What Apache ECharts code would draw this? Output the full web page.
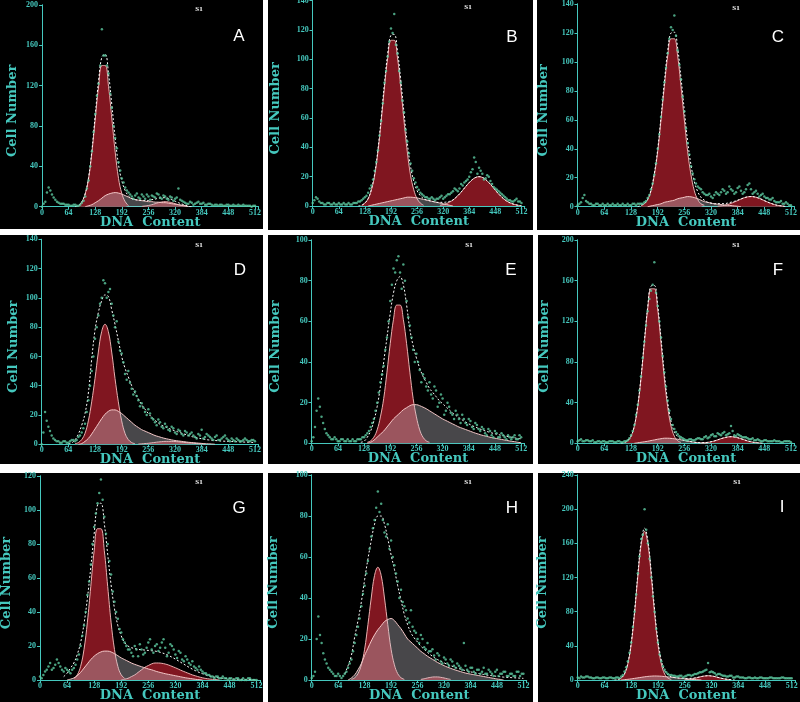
<!DOCTYPE html>
<html><head><meta charset="utf-8">
<script src="https://cdn.jsdelivr.net/npm/echarts@6/dist/echarts.min.js"></script>
<style>html,body{margin:0;padding:0;background:#fff;}#c{width:800px;height:702px;}</style>
</head><body><div id="c"></div>
<script>
// ---------- DATA (x step of 8 channels; "from" is the first channel) ----------
const STEP = 8;
const panelLetters = ['A','B','C','D','E','F','G','H','I'];
const yMaxes = [200,140,140,140,100,200,120,100,240];
const yIntervals = [40,20,20,20,20,40,20,20,40];
const xMax = 512, xInterval = 64;
const xAxisTitle = 'DNA  Content';
const yAxisTitle = 'Cell Number';
const sampleTag = 'S1';

// Panel A
const A_G1 = {from:88, y:[1,5,13,28,54,87,119,140,140,119,87,54,28,13,5,1]};
const A_S  = {from:104, y:[0,1,2,4,6,8.5,11,12.5,13.5,14,13.5,12.5,11,9.5,8,7,6.5,6,5.5,5,5,4.5,4.5,4,4,3.5,3,2.5,2,1.5,1,0]};
const A_G2 = {from:240, y:[.3,.7,1.2,2,3,4,4.7,5,4.7,4,3,2,1.2,.7,.3]};
const A_FIT = null;
const A_DOTS = [0,5,19,12,7,4,3,2,2,1,2,1,4,10,26,55,92,122,176,150,132,98,68,44,28,19,14,10,11,9,12,8,10,11,9,12,8,10,7,9,8,18,6,4,3,4,3,5,3,2,3,2,2,1,2,1,2,1,1,2,1,1,1,0,1];
const A_DOTS2 = [3,14,16,9,5,3,3,2,1,2,1,2,6,18,40,74,110,140,150,140,112,80,58,36,24,16,12,8,13,8,10,12,7,10,13,9,11,8,10,6,9,7,5,3,5,2,4,3,4,2,3,1,2,2,1,2,1,2,1,1,2,1,1,1];

// Panel B
const B_G1 = {from:120, y:[.5,2,5,11,21,37,58,81,101,113,113,101,81,58,37,21,11,5,2,.5]};
const B_S  = {from:136, y:[0,.5,1,1.5,2,2.5,3,3.5,4,4.5,5,5.5,6,6,5.8,5.5,5,4.5,4,3.5,3,2.5,2,1.5,1,.5,0]};
const B_G2 = {from:312, y:[.5,1,1.7,2.7,4.1,6,8.2,10.8,13.5,16,18.1,19.5,20,19.5,18.1,16,13.5,10.8,8.2,6,4.1,2.7,1.7,1,.5,.2]};
const B_FIT = null;
const B_DOTS = [2,6,3,2,1,2,1,1,2,1,1,2,1,2,3,4,6,9,14,24,38,58,84,102,121,131,104,84,64,44,29,19,13,9,7,6,5,5,5,6,5,7,8,10,11,12,14,17,20,25,30,26,22,19,20,15,12,10,8,6,4,3,4,3,2];
const B_DOTS2 = [4,5,2,1,2,1,2,1,1,2,1,1,2,2,3,5,7,12,18,30,48,70,92,112,118,110,92,72,52,36,24,16,11,8,6,5,6,4,5,7,6,8,9,12,10,15,16,18,23,33,22,24,18,21,17,13,11,9,7,5,4,3,5,3];

// Panel C
const C_G1 = {from:152, y:[1,2,5,11,22,38,60,83,104,116,116,104,83,60,38,22,11,5,2,1]};
const C_S  = {from:168, y:[0,.5,1,1.5,2,3,3.5,4,4.5,5.5,6,6.5,7,6.8,6.3,5.5,4.5,3.5,3,2.5,2,1.8,1.5,1.2,1,.8,.5,.3,0]};
const C_G2 = {from:336, y:[.3,.6,.9,1.5,2.3,3.2,4.2,5.3,6.2,6.8,7,6.8,6.2,5.3,4.2,3.2,2.3,1.5,.9,.6,.3]};
const C_FIT = null;
const C_DOTS = [1,3,8,3,2,1,2,1,1,2,1,1,2,1,1,2,1,2,2,2,3,6,12,22,40,62,86,106,124,132,108,88,66,44,28,19,14,12,9,8,7,8,9,10,11,10,12,9,13,11,10,15,12,10,9,8,7,6,5,4,3,4,2,2,1];
const C_DOTS2 = [2,6,4,2,1,2,1,2,1,1,2,1,1,2,1,1,2,1,2,2,4,8,16,30,50,74,96,116,122,118,98,76,54,36,23,16,13,10,8,9,6,10,8,12,9,14,11,10,14,9,12,16,9,11,7,9,6,5,6,3,3,2,3,1];

// Panel D
const D_G1 = {from:80, y:[.4,1.2,3.2,7.5,16,29,45,63,77,82,77,63,45,29,16,7.5,3.2,1.2,.4]};
const D_S  = {from:88, y:[0,.5,2,4,7,10.5,14,17.5,20.5,22.5,23.5,23.5,22.5,21,19,17,15,13,11.5,10,9,8,7,6,5.3,4.6,4,3.5,3,2.6,2.3,2,1.7,1.4,1.2,1,.8,.6,.4,.3,.2,0]};
const D_G2 = {from:232, y:[.2,.3,.5,.7,1,1.3,1.6,1.8,2,2,2,1.9,1.7,1.5,1.2,1,.8,.6,.4,.3,.2]};
const D_FIT = {from:64, y:[.5,1,3,7,13,21,35,58,78,90,98,102,101,92,82,71,60,52,46,40,35,31,27,24,21,18.5,16.5,14.5,13,12,11,10,9.2,8.4,7.6,6.8,6,5.3,4.7,4.2,3.8,3.4,3,2.8,2.6,2.4,2.2,2.1,2,1.9,1.8,1.7,1.6,1.5,1.4,1.3,1.2]};
const D_DOTS = [0,22,12,6,3,2,1,2,1,3,2,5,8,14,30,50,72,88,100,110,104,96,80,70,62,48,50,38,36,30,28,22,24,18,15,17,12,14,10,12,8,10,7,9,6,8,5,7,10,5,6,4,5,3,4,6,3,4,2,3,2,4,2,3,2];
const D_DOTS2 = [8,16,9,4,2,1,2,1,2,3,3,6,11,22,40,60,80,96,112,100,106,88,84,64,56,44,42,34,33,26,25,20,21,17,13,15,11,12,9,11,7,9,6,8,7,6,4,6,4,7,5,3,6,3,5,4,2,3,4,2,3,3,2,3];

// Panel E
const E_G1 = {from:136, y:[.5,1.2,3,6.6,13,22,35,49,61,68,68,61,49,35,22,13,6.6,3,1.2,.5]};
const E_S  = {from:136, y:[0,.5,1.5,3,4.5,6,8,10,12,13.5,15,16.5,17.5,18.5,19,19,18.5,17.8,17,16,15,14,13,12,11.2,10.4,9.6,8.8,8,7.4,6.8,6.2,5.6,5,4.5,4,3.6,3.2,2.8,2.5,2.2,1.9,1.6,1.3,1,.8,.5,.3]};
const E_G2 = null;
const E_FIT = {from:120, y:[.5,1,3,6,11,18,28,40,52,64,74,80,82,78,68,56,48,42,37,33,30,27,25,23,21,19.5,18,16.5,15,13.8,12.6,11.5,10.5,9.6,8.7,8,7.3,6.7,6.1,5.6,5.1,4.7,4.3,3.9,3.6,3.3,3,2.7,2.4,2.2]};
const E_DOTS = [1,8,22,13,7,4,2,3,1,2,1,2,1,1,2,2,3,5,8,12,20,30,38,52,70,86,90,84,88,70,58,46,44,36,34,28,30,22,26,20,22,16,18,14,16,12,14,10,12,8,10,7,8,5,7,4,6,3,5,3,4,2,4,2,3];
const E_DOTS2 = [3,16,18,10,5,3,2,2,1,2,1,1,2,1,2,3,4,6,10,16,25,34,46,60,78,84,92,76,80,62,52,40,40,30,32,26,24,28,18,24,14,20,15,12,14,10,12,9,11,7,9,6,7,4,6,3,5,3,4,2,3,3,2,4];

// Panel F
const F_G1 = {from:112, y:[.8,2.6,7,17,36,64,99,132,152,152,132,99,64,36,17,7,2.6,.8]};
const F_S  = {from:136, y:[0,.5,1,1.5,2,2.7,3.3,4,4.5,5,5,4.8,4.4,4,3.4,2.8,2.2,1.6,1.1,.7,.4,.2,0]};
const F_G2 = {from:296, y:[.2,.5,.9,1.5,2.3,3.4,4.5,5.5,6.2,6.5,6.2,5.5,4.5,3.4,2.3,1.5,.9,.5,.2]};
const F_FIT = null;
const F_DOTS = [2,4,2,3,2,1,2,1,2,1,2,1,2,1,2,3,8,18,38,66,100,130,150,178,135,104,70,42,24,14,9,6,4,3,4,3,5,4,6,5,8,7,10,8,11,9,17,8,9,7,6,5,4,3,4,2,3,2,2,3,2,1,2,2,1];
const F_DOTS2 = [3,2,3,2,3,1,2,2,1,2,2,1,2,1,2,5,12,28,52,84,116,142,156,148,120,86,56,32,18,11,7,5,3,4,3,4,5,4,7,6,9,7,9,10,8,10,12,7,8,6,6,4,5,3,3,2,3,2,2,2,2,1,2,2];

// Panel G
const G_G1 = {from:80, y:[1,3,8,18,34,55,76,89,89,76,55,34,18,8,3,1]};
const G_S  = {from:64, y:[0,.5,1.2,2.5,4.5,7,9.5,12,14,15.5,16.5,17,17,16.5,15.5,14.3,13,12,11,10,9.2,8.5,7.8,7.2,6.5,6,5.3,4.7,4.2,3.7,3.3,2.9,2.5,2.1,1.7,1.3,1,.7,.4,.2,0]};
const G_G2 = {from:192, y:[0,.5,1,2,3,4.5,6,7.5,8.5,9.5,10,10,9.8,9.4,8.8,8,7.2,6.3,5.4,4.6,3.8,3,2.4,1.8,1.3,.9,.6,.4,.2,0]};
const G_FIT = {from:56, y:[2,4,7,10,15,22,33,48,66,86,103,104,92,74,56,42,32,26,22,20,19,18.5,18,17.8,17.6,17.4,17.2,17,16.6,16,15.3,14.4,13.4,12.3,11.1,9.9,8.7,7.5,6.4,5.4,4.5,3.7,3,2.4,1.9,1.5,1.2,1,.8,.7,.6,.5,.4,.4,.3,.3,.2,.2]};
const G_DOTS = [2,3,6,10,7,12,8,5,6,4,7,12,20,32,50,68,90,104,118,96,80,62,46,36,28,22,18,16,20,14,18,16,22,18,20,17,22,19,16,20,15,17,12,14,10,11,7,8,5,4,3,2,2,1,2,1,1,0,1,0,1,0,1,0,0];
const G_DOTS2 = [1,5,8,6,9,10,6,7,5,6,9,15,26,40,58,80,98,110,106,86,70,52,40,30,24,20,18,14,18,21,15,19,24,16,21,19,24,14,21,18,13,16,11,12,9,8,6,6,4,3,2,1,2,1,1,0,1,0,1,0,0,1,0,0];

// Panel H
const H_G1 = {from:96, y:[.3,1.1,3.1,7.4,15,27,40,51,55,51,40,27,15,7.4,3.1,1.1,.3]};
const H_S  = {from:88, y:[0,1,2.5,5,8,12,15.5,19,22,24.5,26.5,28.5,29.5,30,29,27,25,22.5,20,18.5,17,15.5,14,12.8,11.6,10.6,9.6,8.6,7.8,7,6.3,5.7,5.1,4.6,4.1,3.6,3.2,2.9,2.6,2.3,2,1.7,1.4,1.1,.8,.5,.3,0]};
const H_G2 = {from:264, y:[.3,.6,1,1.3,1.5,1.5,1.3,1,.6,.3]};
const H_FIT = {from:80, y:[3,7,12,21,29,38,49,59,68,76,80,80,76,69,61,54,46,39,32,27,23,20.5,18.5,16.5,15,13.5,12.2,11,10,9.2,8.4,7.6,7,6.4,5.8,5.3,4.8,4.4,4,3.6,3.3,3,2.7,2.4,2.2,2,1.8,1.6,1.4,1.3,1.2,1.1,1,.9,.8]};
const H_DOTS = [1,4,31,18,10,6,4,2,3,1,3,6,10,18,26,36,46,58,70,78,92,86,72,76,68,56,48,44,36,30,34,24,20,22,16,18,14,12,13,9,11,8,10,7,8,6,18,5,6,4,5,3,6,3,4,2,5,3,4,2,3,2,4,2,3];
const H_DOTS2 = [2,20,22,13,8,5,3,2,2,2,4,8,14,22,30,42,52,64,74,84,82,78,70,64,60,52,40,38,34,28,26,23,18,20,15,14,15,10,12,8,10,7,9,6,7,5,7,4,6,3,5,4,3,5,3,4,2,3,4,2,3,2,4,3];

// Panel I
const I_G1 = {from:96, y:[.6,2.3,7,19,42,78,122,159,174,159,122,78,42,19,7,2.3,.6]};
const I_S  = {from:104, y:[0,.4,.8,1.3,1.9,2.5,3.1,3.7,4.2,4.5,4.7,4.6,4.4,4,3.6,3.2,2.8,2.4,2,1.6,1.2,.8,.5,.2,0]};
const I_G2 = {from:256, y:[.3,.7,1.2,2,3,4,4.7,5,4.7,4,3,2,1.2,.7,.3]};
const I_FIT = null;
const I_DOTS = [3,4,3,4,3,2,3,2,3,2,3,2,3,4,10,22,44,80,125,165,200,160,120,80,44,22,12,7,6,5,4,5,4,6,5,7,8,9,11,20,10,8,7,6,5,4,5,3,4,3,2,3,2,3,2,3,2,2,3,2,2,3,2,2,2];
const I_DOTS2 = [2,3,4,3,2,3,2,3,2,3,2,3,2,6,15,32,62,100,145,170,176,142,98,60,30,16,9,6,5,4,5,3,5,6,6,7,9,10,12,9,9,6,7,5,4,5,3,4,3,3,2,3,2,2,3,2,2,3,2,2,2,3,2,2];

// ---------- LAYOUT (pixels) ----------
const layouts = [
 {bg:[0,0,263,229],   x0:42,    x1:258.3, yT:5,     yB:206.7, gapY:23, letter:[239,36],  tag:[199,9]},
 {bg:[268,0,265,230], x0:312.7, x1:524.7, yT:0.7,   yB:206,   gapY:31, letter:[512,37],  tag:[468,7]},
 {bg:[537,0,263,230], x0:577.7, x1:794.3, yT:4,     yB:206.7, gapY:28, letter:[778,37],  tag:[736,8]},
 {bg:[0,235,263,229], x0:41.7,  x1:258.3, yT:239.3, yB:444.3, gapY:22, letter:[240,270], tag:[199,245]},
 {bg:[268,235,265,229],x0:311.7,x1:524.4, yT:240,   yB:443.3, gapY:30, letter:[511,270], tag:[469,245]},
 {bg:[538,235,262,229],x0:577.7,x1:794.3, yT:240,   yB:443.3, gapY:27, letter:[778,270], tag:[736,245]},
 {bg:[0,473,263,229], x0:40,    x1:260,   yT:476,   yB:680,   gapY:27, letter:[239,508], tag:[199,482]},
 {bg:[268,473,265,229],x0:311.7,x1:526.7, yT:475,   yB:680,   gapY:32, letter:[512,508], tag:[468,482]},
 {bg:[538,473,262,229],x0:577.7,x1:795,   yT:475,   yB:680,   gapY:29, letter:[782,507], tag:[737,482]}
];

const panelData = [
 [A_G1,A_S,A_G2,A_FIT,A_DOTS,A_DOTS2],[B_G1,B_S,B_G2,B_FIT,B_DOTS,B_DOTS2],[C_G1,C_S,C_G2,C_FIT,C_DOTS,C_DOTS2],
 [D_G1,D_S,D_G2,D_FIT,D_DOTS,D_DOTS2],[E_G1,E_S,E_G2,E_FIT,E_DOTS,E_DOTS2],[F_G1,F_S,F_G2,F_FIT,F_DOTS,F_DOTS2],
 [G_G1,G_S,G_G2,G_FIT,G_DOTS,G_DOTS2],[H_G1,H_S,H_G2,H_FIT,H_DOTS,H_DOTS2],[I_G1,I_S,I_G2,I_FIT,I_DOTS,I_DOTS2]
];

// ---------- helpers ----------
function pairs(c){ return c ? c.y.map((v,i)=>[c.from+i*STEP, v]) : []; }
function valAt(c,x){ if(!c) return 0; const i=(x-c.from)/STEP; return (i>=0 && i<c.y.length)? c.y[i] : 0; }
function sumFit(list){
  const out=[];
  for(let x=0;x<=xMax;x+=STEP){ let t=0; list.forEach(c=>{t+=valAt(c,x);}); out.push([x,t]); }
  let a=0,b=out.length-1;
  while(a<b && out[a][1]<0.05) a++;
  while(b>a && out[b][1]<0.05) b--;
  return out.slice(Math.max(0,a-1), Math.min(out.length,b+2));
}

const TEAL = '#45c8be';
const labelFont = {color:TEAL, fontFamily:'Liberation Serif', fontWeight:'bold', fontSize:8};
const nameFont = {color:TEAL, fontFamily:'DejaVu Serif', fontWeight:'bold', fontSize:13};

const grids=[], xAxes=[], yAxes=[], series=[], graphics=[];
layouts.forEach((L,i)=>{
  graphics.push({type:'rect', z:-100, silent:true, shape:{x:L.bg[0],y:L.bg[1],width:L.bg[2],height:L.bg[3]}, style:{fill:'#000'}});
  grids.push({left:L.x0, top:L.yT, width:L.x1-L.x0, height:L.yB-L.yT, show:false, containLabel:false, outerBoundsMode:'none'});
  const xMaxExt = xMax + 8;
  xAxes.push({gridIndex:i, type:'value', min:0, max:xMaxExt, interval:xInterval, position:'bottom',
    axisLine:{lineStyle:{color:TEAL,width:1}}, axisTick:{length:2,lineStyle:{color:TEAL}},
    splitLine:{show:false},
    axisLabel:Object.assign({margin:2, showMaxLabel:false, formatter:v=>(v%xInterval===0 && v<=xMax)? String(v):''}, labelFont),
    name:xAxisTitle, nameLocation:'middle', nameGap:9, nameMoveOverlap:false, nameTextStyle:nameFont});
  xAxes.push({gridIndex:i, type:'value', min:0, max:xMaxExt, interval:xInterval, position:'top',
    axisLine:{lineStyle:{color:TEAL,width:1}}, axisTick:{inside:true,length:3,lineStyle:{color:TEAL}},
    axisLabel:{show:false}, splitLine:{show:false}});
  yAxes.push({gridIndex:i, type:'value', min:0, max:yMaxes[i], interval:yIntervals[i], position:'left',
    axisLine:{show:true,lineStyle:{color:TEAL,width:1}}, axisTick:{show:true,length:3,lineStyle:{color:TEAL}},
    splitLine:{show:false},
    axisLabel:Object.assign({margin:4}, labelFont),
    name:yAxisTitle, nameLocation:'middle', nameGap:L.gapY, nameMoveOverlap:false,
    nameTextStyle:Object.assign({padding:[0,10,0,0]}, nameFont)});
  yAxes.push({gridIndex:i, type:'value', min:0, max:yMaxes[i], interval:yIntervals[i], position:'right',
    axisLine:{show:true,lineStyle:{color:TEAL,width:1}}, axisTick:{show:true,inside:true,length:3,lineStyle:{color:TEAL}},
    axisLabel:{show:false}, splitLine:{show:false}});

  const [g1,s,g2,fit,dots,dots2] = panelData[i];
  const xa = 2*i, ya = 2*i;
  series.push({type:'line', xAxisIndex:xa, yAxisIndex:ya, data:pairs(g1), smooth:0.4, showSymbol:false, z:2,
    lineStyle:{color:'#eab0b0', width:1}, areaStyle:{color:'#801620', opacity:1}, silent:true});
  if(g2) series.push({type:'line', xAxisIndex:xa, yAxisIndex:ya, data:pairs(g2), smooth:0.4, showSymbol:false, z:3,
    lineStyle:{color:'#eab0b0', width:1}, areaStyle:{color:'#801620', opacity:1}, silent:true});
  series.push({type:'line', xAxisIndex:xa, yAxisIndex:ya, data:pairs(s), smooth:0.4, showSymbol:false, z:4,
    lineStyle:{color:'#f4c8c8', width:1}, areaStyle:{color:'rgba(205,202,210,0.5)'}, silent:true});
  const fitData = fit ? pairs(fit) : sumFit([g1,s,g2]);
  series.push({type:'line', xAxisIndex:xa, yAxisIndex:ya, data:fitData, smooth:0.4, showSymbol:false, z:5,
    lineStyle:{color:'#ffffff', width:1, type:[2,2]}, silent:true});
  const dotPts = dots.map((v,k)=>[k*STEP,v]).concat(dots2.map((v,k)=>[4+k*STEP,v]));
  series.push({type:'scatter', xAxisIndex:xa, yAxisIndex:ya, data:dotPts, symbolSize:2.5, z:6,
    itemStyle:{color:'#5cc9a0'}, silent:true});

  graphics.push({type:'text', z:50, x:L.letter[0], y:L.letter[1], style:{text:panelLetters[i], fill:'#ffffff',
    font:'17px "Liberation Sans", Arial, sans-serif', align:'center', verticalAlign:'middle'}});
  graphics.push({type:'text', z:50, x:L.tag[0], y:L.tag[1], style:{text:sampleTag, fill:'#ffffff',
    font:'bold 7px "Liberation Serif", serif', align:'center', verticalAlign:'middle'}});
});

const chart = echarts.init(document.getElementById('c'), null, {renderer:'canvas'});
chart.setOption({
  backgroundColor:'#ffffff',
  animation:false,
  grid:grids, xAxis:xAxes, yAxis:yAxes, series:series,
  graphic:{elements:graphics}
});
</script></body></html>
